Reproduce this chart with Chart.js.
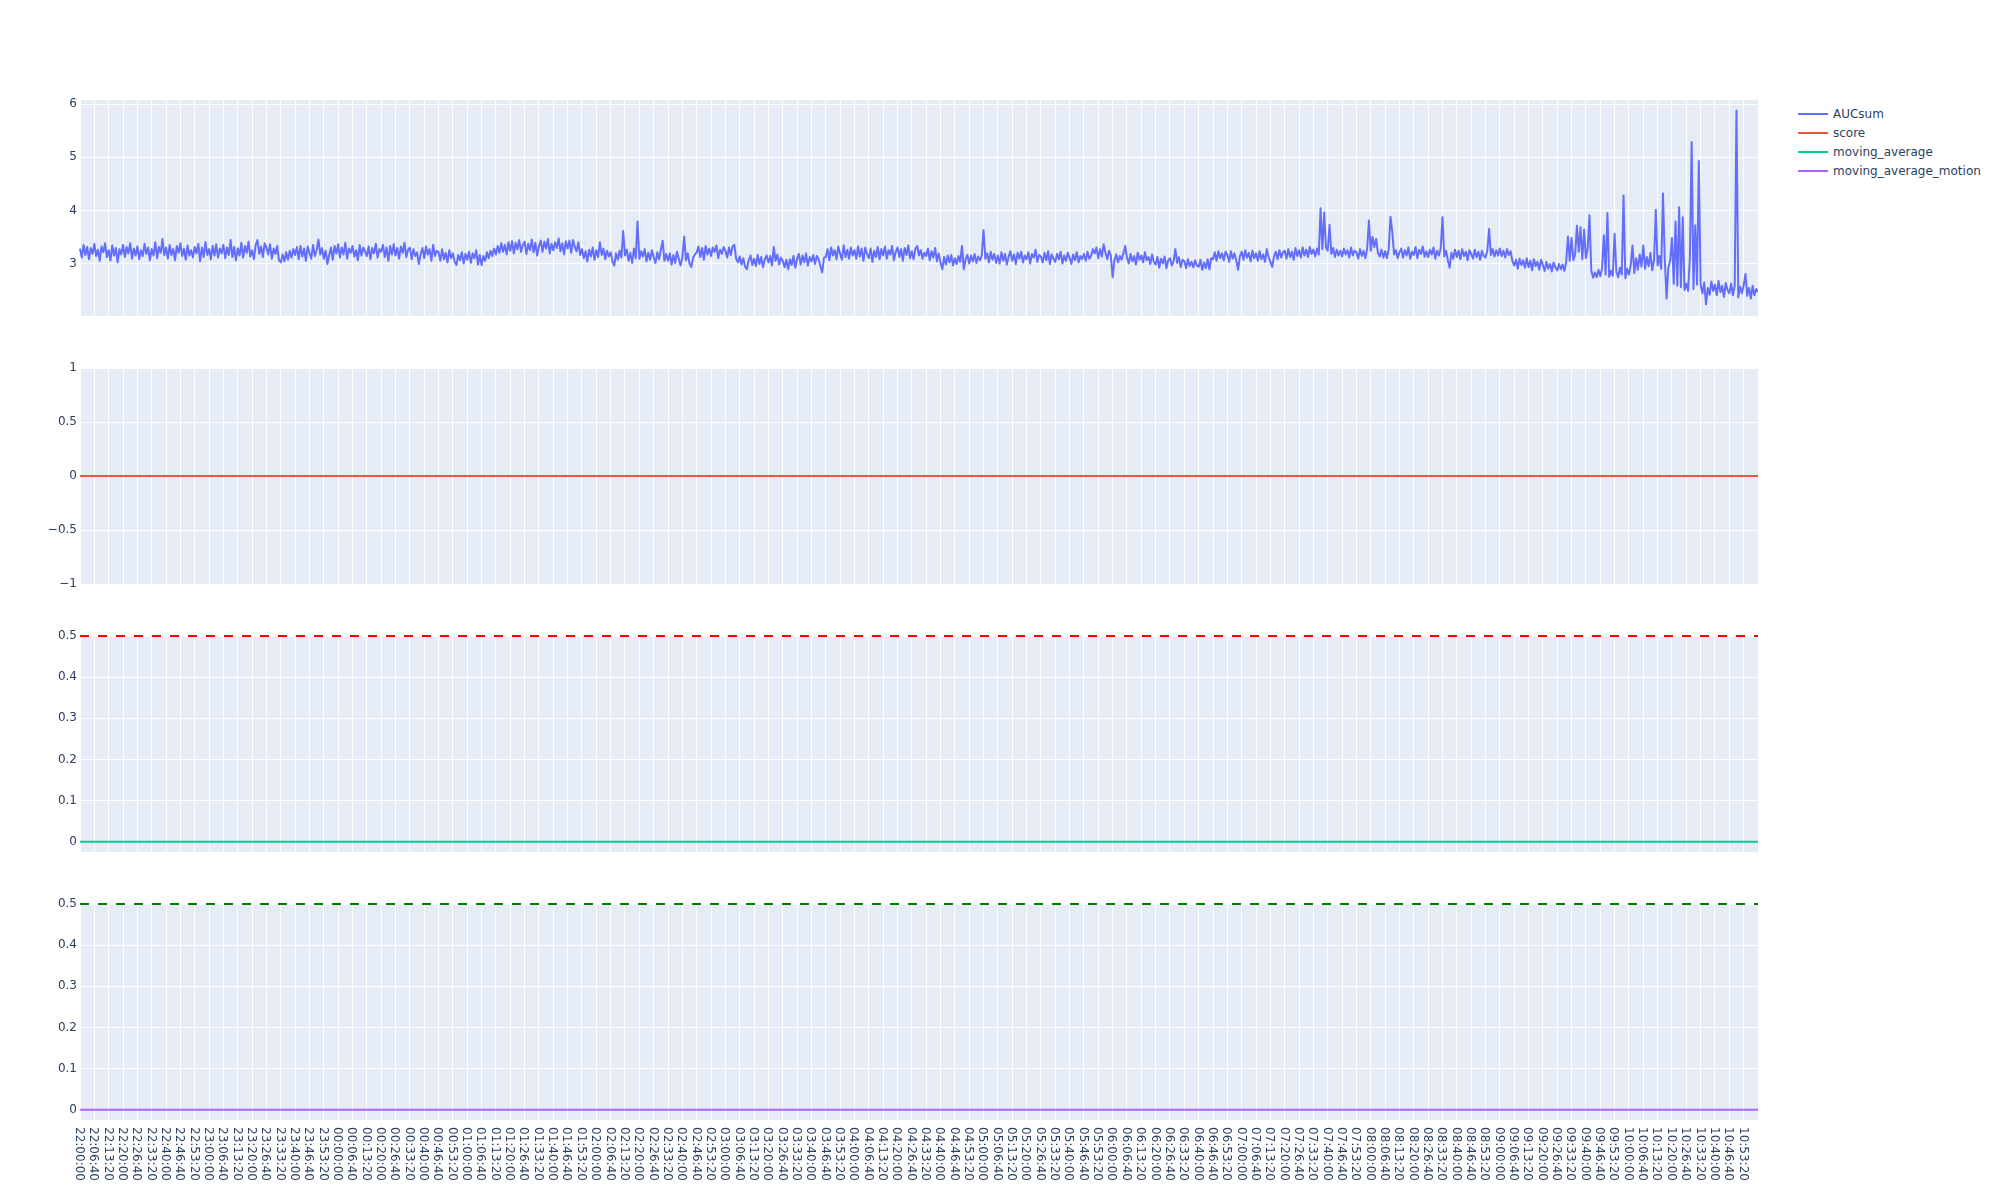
<!DOCTYPE html>
<html>
<head>
<meta charset="utf-8">
<script src="https://cdn.jsdelivr.net/npm/chart.js@4.4.1/dist/chart.umd.min.js"></script>
<style>
html,body{margin:0;padding:0;background:#fff;}
#wrap{position:relative;width:2000px;height:1200px;overflow:hidden;font-family:"DejaVu Sans",Verdana,sans-serif;}
#wrap canvas{position:absolute;left:0;}
.leg{position:absolute;left:1798px;height:19px;width:200px;font-size:12px;color:#2a3f5f;white-space:nowrap;}
.leg i{position:absolute;left:0;top:8.5px;width:30px;height:2px;display:block;}
.leg span{position:absolute;left:35px;top:0;line-height:19px;}
</style>
</head>
<body>
<div id="wrap"></div>
<script>
// ---------------- DATA ----------------
const seriesNames = ["AUCsum", "score", "moving_average", "moving_average_motion"];
const seriesColors = ["#636efa", "#EF553B", "#00cc96", "#ab63fa"];

// x tick labels (every 6:40)
const tickLabels = [
"22:00:00","22:06:40","22:13:20","22:20:00","22:26:40","22:33:20","22:40:00","22:46:40","22:53:20",
"23:00:00","23:06:40","23:13:20","23:20:00","23:26:40","23:33:20","23:40:00","23:46:40","23:53:20",
"00:00:00","00:06:40","00:13:20","00:20:00","00:26:40","00:33:20","00:40:00","00:46:40","00:53:20",
"01:00:00","01:06:40","01:13:20","01:20:00","01:26:40","01:33:20","01:40:00","01:46:40","01:53:20",
"02:00:00","02:06:40","02:13:20","02:20:00","02:26:40","02:33:20","02:40:00","02:46:40","02:53:20",
"03:00:00","03:06:40","03:13:20","03:20:00","03:26:40","03:33:20","03:40:00","03:46:40","03:53:20",
"04:00:00","04:06:40","04:13:20","04:20:00","04:26:40","04:33:20","04:40:00","04:46:40","04:53:20",
"05:00:00","05:06:40","05:13:20","05:20:00","05:26:40","05:33:20","05:40:00","05:46:40","05:53:20",
"06:00:00","06:06:40","06:13:20","06:20:00","06:26:40","06:33:20","06:40:00","06:46:40","06:53:20",
"07:00:00","07:06:40","07:13:20","07:20:00","07:26:40","07:33:20","07:40:00","07:46:40","07:53:20",
"08:00:00","08:06:40","08:13:20","08:20:00","08:26:40","08:33:20","08:40:00","08:46:40","08:53:20",
"09:00:00","09:06:40","09:13:20","09:20:00","09:26:40","09:33:20","09:40:00","09:46:40","09:53:20",
"10:00:00","10:06:40","10:13:20","10:20:00","10:26:40","10:33:20","10:40:00","10:46:40","10:53:20"
];

// AUCsum: one reading every 50 s starting at 22:00:00 (8 readings per 6:40 tick)
const aucStartSec = 0;
const aucStepSec = 50;
const aucValues = [
// 22h
3.28,3.11,3.35,3.16,3.31,3.08,3.29,3.18,
3.37,3.14,3.26,3.05,3.32,3.21,3.38,3.12,
3.25,3.06,3.34,3.15,3.29,3.02,3.27,3.17,
3.35,3.12,3.31,3.19,3.38,3.09,3.28,3.15,
3.32,3.08,3.25,3.14,3.37,3.18,3.30,3.06,
3.27,3.15,3.40,3.10,3.31,3.20,3.46,3.16,
3.30,3.09,3.35,3.16,3.27,3.06,3.33,3.20,
3.38,3.14,3.28,3.07,3.34,3.15,3.25,3.11,
3.31,3.19,3.37,3.04,3.30,3.12,3.40,3.16,
// 23h
3.27,3.08,3.33,3.15,3.36,3.11,3.28,3.19,
3.35,3.10,3.30,3.16,3.44,3.12,3.31,3.06,
3.28,3.15,3.39,3.11,3.33,3.20,3.41,3.13,
3.25,3.08,3.35,3.44,3.18,3.32,3.12,3.38,
3.30,3.17,3.36,3.09,3.28,3.18,3.33,3.06,
3.02,3.17,3.04,3.21,3.07,3.24,3.11,3.27,
3.16,3.31,3.08,3.33,3.13,3.28,3.05,3.32,
3.20,3.09,3.35,3.14,3.25,3.45,3.17,3.29,
3.09,3.24,2.99,3.16,3.30,3.07,3.33,3.19,
// 00h
3.36,3.11,3.30,3.17,3.39,3.09,3.28,3.20,
3.33,3.13,3.25,3.06,3.35,3.15,3.30,3.23,
3.14,3.32,3.08,3.29,3.19,3.37,3.11,3.27,
3.22,3.35,3.12,3.30,3.05,3.33,3.17,3.36,
3.15,3.29,3.09,3.32,3.20,3.39,3.12,3.26,
3.30,3.08,3.27,3.14,3.21,2.99,3.17,3.29,
3.10,3.32,3.17,3.27,3.05,3.35,3.14,3.24,
3.21,3.05,3.27,3.08,3.20,3.02,3.25,3.10,
3.19,3.03,2.97,3.16,3.06,3.21,3.00,3.18,
// 01h
3.07,3.22,3.01,3.19,3.10,3.25,2.98,3.16,
2.97,3.14,3.05,3.21,3.10,3.24,3.14,3.28,
3.17,3.33,3.20,3.38,3.22,3.35,3.17,3.40,
3.24,3.42,3.19,3.39,3.27,3.44,3.22,3.35,
3.41,3.18,3.37,3.25,3.45,3.21,3.39,3.15,
3.33,3.43,3.22,3.41,3.28,3.46,3.19,3.37,
3.25,3.40,3.29,3.47,3.23,3.38,3.17,3.42,
3.28,3.43,3.20,3.44,3.31,3.23,3.40,3.16,
3.27,3.10,3.23,3.04,3.26,3.13,3.30,3.07,
// 02h
3.25,3.12,3.40,3.16,3.28,3.08,3.24,3.13,
3.21,3.04,2.96,3.19,3.07,3.24,3.11,3.61,
3.15,3.26,3.05,3.20,3.01,3.28,3.10,3.79,
3.09,3.23,3.13,3.27,3.04,3.20,3.07,3.25,
3.12,3.01,3.21,3.08,3.26,3.43,3.05,3.18,
3.05,3.19,2.98,3.16,3.01,3.22,3.09,2.96,
3.12,3.51,3.06,3.19,3.00,2.93,3.11,3.17,
3.21,3.32,3.12,3.29,3.07,3.33,3.17,3.28,
3.14,3.30,3.22,3.34,3.10,3.26,3.18,3.31,
// 03h
3.24,3.11,3.30,3.16,3.32,3.35,3.09,3.02,
3.13,2.98,3.10,2.94,2.89,3.06,3.15,2.97,
3.09,2.95,3.16,2.99,3.12,2.93,3.08,3.15,
3.02,3.14,2.96,3.31,3.05,3.17,2.98,3.11,
3.05,2.93,3.07,2.89,3.08,2.97,3.14,2.92,
3.09,3.18,2.98,3.15,3.02,3.19,2.96,3.12,
3.04,3.16,2.99,3.14,3.08,2.95,2.83,3.11,
3.12,3.27,3.06,3.30,3.15,3.25,3.08,3.32,
3.18,3.07,3.34,3.12,3.26,3.09,3.30,3.15,
// 04h
3.25,3.09,3.32,3.13,3.28,3.05,3.30,3.18,
3.10,3.28,3.03,3.24,3.12,3.31,3.08,3.27,
3.15,3.32,3.09,3.25,3.17,3.33,3.06,3.22,
3.30,3.12,3.27,3.05,3.29,3.16,3.34,3.10,
3.23,3.08,3.28,3.33,3.15,3.25,3.09,3.20,
3.14,3.28,3.06,3.23,3.11,3.29,3.04,3.19,
3.02,2.89,3.12,2.98,3.15,3.02,3.16,2.96,
3.10,2.99,3.14,3.03,3.33,2.89,3.08,3.16,
3.00,3.15,3.04,3.18,3.01,3.13,3.06,3.15,
// 05h
3.63,3.09,3.19,3.02,3.22,3.07,3.18,3.01,
3.15,3.00,3.21,3.05,3.18,2.98,3.13,3.23,
3.05,3.17,2.99,3.20,3.09,3.22,3.02,3.15,
3.08,3.21,3.00,3.18,3.11,3.26,3.03,3.16,
3.13,3.02,3.20,3.06,3.23,2.99,3.17,3.09,
3.03,3.18,3.08,3.22,3.00,3.15,3.05,3.20,
3.11,2.99,3.17,3.06,3.21,3.02,3.14,3.08,
3.18,3.05,3.22,3.09,3.14,3.27,3.19,3.30,
3.10,3.27,3.13,3.36,3.20,3.08,3.24,3.15,
// 06h
2.74,3.06,3.17,3.02,3.14,3.07,3.19,3.33,
3.11,3.00,3.18,3.04,3.14,2.98,3.20,3.07,
3.15,3.02,3.21,3.06,3.12,2.99,3.17,3.03,
2.98,3.12,2.92,3.09,3.00,3.13,2.91,3.06,
3.10,2.96,3.04,3.27,3.01,3.12,2.93,3.07,
3.04,2.91,3.08,2.95,3.03,2.93,3.06,2.96,
2.94,3.07,2.88,3.02,2.91,3.08,2.89,3.10,
3.08,3.21,3.05,3.23,3.10,3.19,3.06,3.22,
3.16,3.03,3.23,3.09,3.19,3.05,2.88,3.14,
// 07h
3.22,3.07,3.25,3.11,3.20,3.04,3.24,3.10,
3.19,3.05,3.23,3.08,3.17,3.03,3.27,3.12,
3.03,2.93,3.13,3.22,3.08,3.25,3.11,3.21,
3.24,3.09,3.27,3.12,3.22,3.07,3.29,3.14,
3.25,3.11,3.30,3.15,3.26,3.12,3.31,3.18,
3.26,3.13,3.28,3.17,4.04,3.27,3.96,3.30,
3.24,3.73,3.18,3.29,3.12,3.26,3.15,3.24,
3.13,3.28,3.17,3.25,3.11,3.30,3.15,3.24,
3.21,3.09,3.27,3.14,3.24,3.10,3.28,3.81,
// 08h
3.24,3.50,3.31,3.46,3.20,3.13,3.26,3.11,
3.23,3.10,3.27,3.88,3.60,3.17,3.25,3.10,
3.21,3.28,3.11,3.25,3.15,3.30,3.09,3.22,
3.16,3.31,3.10,3.26,3.18,3.32,3.13,3.23,
3.12,3.26,3.17,3.30,3.09,3.24,3.15,3.28,
3.87,3.13,3.24,3.06,2.92,3.20,3.09,3.26,
3.12,3.24,3.08,3.27,3.14,3.22,3.06,3.25,
3.18,3.09,3.26,3.12,3.22,3.07,3.24,3.14,
3.11,3.24,3.65,3.16,3.27,3.13,3.25,3.15,
// 09h
3.28,3.14,3.24,3.11,3.27,3.16,3.23,3.05,
2.96,3.07,2.90,3.09,2.97,3.06,2.92,3.10,
2.93,3.05,2.87,3.08,2.95,3.03,2.88,3.07,
2.97,2.86,3.03,2.90,2.99,2.85,3.02,2.92,
2.87,2.99,2.89,2.98,2.86,3.03,3.51,3.05,
3.48,3.06,3.17,3.71,3.22,3.68,3.08,3.64,
3.10,3.28,3.91,2.87,2.73,2.83,2.74,2.88,
2.76,2.90,3.53,2.79,3.95,2.75,2.86,2.77,
3.56,2.84,2.74,2.92,2.79,4.28,2.72,2.90,
// 10h
2.79,2.97,3.34,2.82,3.10,2.88,3.17,2.94,
3.34,2.90,3.12,2.95,3.20,2.87,3.06,4.01,
2.96,3.14,2.90,4.32,3.08,2.34,2.93,3.05,
3.48,2.62,3.79,2.58,4.06,2.55,3.87,2.50,
2.62,2.48,3.10,5.29,2.52,3.72,2.60,4.93,
2.60,2.44,2.64,2.23,2.54,2.41,2.66,2.48,
2.60,2.40,2.67,2.46,2.58,2.37,2.63,2.50,
2.44,2.62,2.40,2.58,5.88,2.36,2.56,2.44,
2.59,2.80,2.39,2.54,2.34,2.58,2.40,2.52,
// 11h
2.46
];

// constant series (start and end of the recording)
const flatTimesSec = [0, 46800];
const scoreValues = [0, 0];
const movingAverageValues = [0, 0];
const movingAverageMotionValues = [0, 0];
const averageThresholdValues = [0.5, 0.5];
const motionThresholdValues = [0.5, 0.5];

// y axis ticks per panel
const yTicksAuc = [3, 4, 5, 6];
const yTicksScore = [-1, -0.5, 0, 0.5, 1];
const yTicksAverage = [0, 0.1, 0.2, 0.3, 0.4, 0.5];
const yTicksMotion = [0, 0.1, 0.2, 0.3, 0.4, 0.5];

// ---------------- BUILD ----------------
const tickSeconds = tickLabels.map(t => {
  const [h, m, s] = t.split(':').map(Number);
  return (((h - 22) + 24) % 24) * 3600 + m * 60 + s;
});
const xMax = aucStartSec + (aucValues.length - 1) * aucStepSec;

const FONT = '"DejaVu Sans", Verdana, sans-serif';
const wrap = document.getElementById('wrap');
const panelTops = [100, 368, 636, 904];
const panelH = 216;
const PAD_TOP = 20;

const bgPlugin = {
  id: 'plotbg',
  beforeDraw(chart) {
    const a = chart.chartArea, c = chart.ctx;
    c.save(); c.fillStyle = '#E5ECF6';
    c.fillRect(a.left, a.top, a.right - a.left, a.bottom - a.top);
    c.restore();
  }
};

const xLabelPlugin = {
  id: 'xlabels',
  afterDraw(chart) {
    const c = chart.ctx, xs = chart.scales.x, y0 = chart.chartArea.bottom + 7;
    c.save();
    c.font = '12px ' + FONT;
    c.fillStyle = '#2a3f5f';
    c.textAlign = 'left';
    c.textBaseline = 'middle';
    tickLabels.forEach((t, i) => {
      const x = xs.getPixelForValue(tickSeconds[i]) - 1;
      c.save(); c.translate(x, y0); c.rotate(Math.PI / 2); c.fillText(t, 0, 0); c.restore();
    });
    c.restore();
  }
};

function line(times, values, color, dash) {
  return {
    data: values.map((v, i) => ({x: times[i], y: v})),
    borderColor: color, backgroundColor: color, borderWidth: 2,
    borderDash: dash || [], pointRadius: 0, tension: 0, fill: false,
    borderJoinStyle: 'round', clip: false
  };
}

function makePanel(idx, datasets, yMin, yMax, yTicks, padBottom, extraPlugins) {
  const cv = document.createElement('canvas');
  cv.width = 1758;
  cv.height = PAD_TOP + panelH + padBottom;
  cv.style.top = (panelTops[idx] - PAD_TOP) + 'px';
  cv.style.width = cv.width + 'px';
  cv.style.height = cv.height + 'px';
  wrap.appendChild(cv);
  return new Chart(cv, {
    type: 'line',
    data: {datasets},
    options: {
      responsive: false, animation: false, devicePixelRatio: 1, events: [],
      layout: {padding: {top: PAD_TOP, bottom: padBottom, left: 0, right: 0}},
      plugins: {legend: {display: false}, tooltip: {enabled: false}},
      scales: {
        x: {
          type: 'linear', min: 0, max: xMax, bounds: 'data',
          grid: {color: '#ffffff', lineWidth: 1, drawTicks: false},
          border: {display: false},
          ticks: {display: false},
          afterBuildTicks: s => { s.ticks = tickSeconds.map(v => ({value: v})); },
          afterFit: s => { s.height = 0; }
        },
        y: {
          type: 'linear', min: yMin, max: yMax, bounds: 'data',
          grid: {color: '#ffffff', lineWidth: 1, drawTicks: false},
          border: {display: false},
          ticks: {
            padding: 3, color: '#2a3f5f', font: {family: FONT, size: 12},
            callback: v => String(v).replace('-', '\u2212')
          },
          afterBuildTicks: s => { s.ticks = yTicks.map(v => ({value: v})); },
          afterFit: s => { s.width = 80; }
        }
      }
    },
    plugins: [bgPlugin].concat(extraPlugins || [])
  });
}

const aucTimes = aucValues.map((v, i) => aucStartSec + i * aucStepSec);

makePanel(0, [Object.assign(line(aucTimes, aucValues, seriesColors[0]), {clip: 1})], 2.01, 6.08, yTicksAuc, 20);
makePanel(1, [line(flatTimesSec, scoreValues, seriesColors[1])], -1, 1, yTicksScore, 20);
makePanel(2, [
  line(flatTimesSec, movingAverageValues, seriesColors[2]),
  line(flatTimesSec, averageThresholdValues, '#ff0000', [9, 9])
], -0.025, 0.5, yTicksAverage, 20);
makePanel(3, [
  line(flatTimesSec, movingAverageMotionValues, seriesColors[3]),
  line(flatTimesSec, motionThresholdValues, '#008000', [9, 9])
], -0.025, 0.5, yTicksMotion, 80, [xLabelPlugin]);

// legend
const legendCenters = [114, 133, 152, 171];
seriesNames.forEach((n, i) => {
  const d = document.createElement('div');
  d.className = 'leg';
  d.style.top = (legendCenters[i] - 9.5) + 'px';
  const sw = document.createElement('i'); sw.style.background = seriesColors[i];
  const sp = document.createElement('span'); sp.textContent = n;
  d.appendChild(sw); d.appendChild(sp);
  wrap.appendChild(d);
});
</script>
</body>
</html>
